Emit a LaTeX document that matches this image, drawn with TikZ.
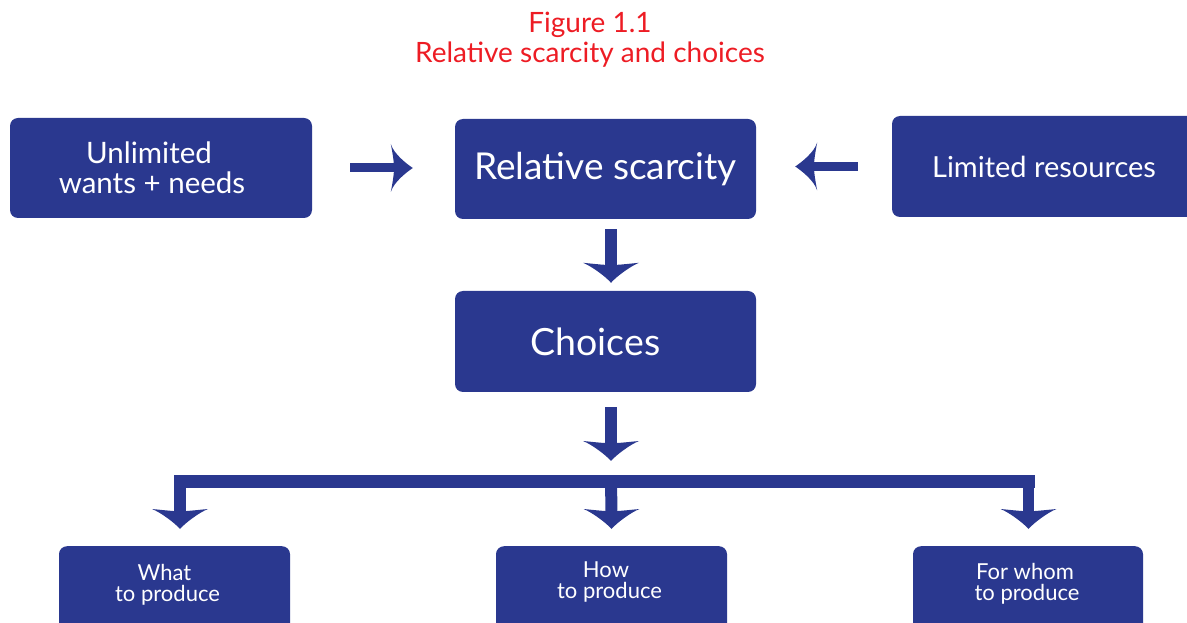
\documentclass[tikz,border=0pt]{standalone}
\usepackage{fontspec}
\setmainfont{Lato}
\definecolor{boxblue}{RGB}{42,56,143}
\definecolor{titlered}{RGB}{237,28,36}
\newcommand\padr[1]{\rule{#1}{0pt}}
\begin{document}
\begin{tikzpicture}[x=1pt,y=1pt,
  box/.style={fill=boxblue, rounded corners=8pt, text=white, inner sep=0pt, align=center},
  shaftH/.style={draw=boxblue, line width=9pt},
  shaftV/.style={draw=boxblue, line width=12pt},
  hhead/.pic={\fill[boxblue] (0,0) .. controls (-6,4) and (-19,14) .. (-22,24)
     .. controls (-20,14) and (-19,6) .. (-19,4.5) -- (-19,-4.5)
     .. controls (-19,-6) and (-20,-14) .. (-22,-24)
     .. controls (-19,-14) and (-6,-4) .. cycle;},
  vhead/.pic={\fill[boxblue] (0,0) .. controls (-6,5) and (-17,20) .. (-20,28)
     .. controls (-19,18) and (-18,8) .. (-18,6.5) -- (-18,-6.5)
     .. controls (-18,-8) and (-19,-18) .. (-20,-28)
     .. controls (-17,-20) and (-6,-5) .. cycle;}
]
\useasboundingbox (0,0) rectangle (1187,622);
\clip (0,0) rectangle (1187,622);

\node[text=titlered, align=center, font=\fontsize{28}{30}\selectfont] (title) at (590,582)
  {Figure 1.1\\Relative scarcity and choices};

\node[box, minimum width=302pt, minimum height=100pt, font=\fontsize{29.5}{30}\selectfont] (u) at (161,454)
  {Unlimited\padr{24pt}\\wants + needs\padr{18pt}};
\node[box, minimum width=301pt, minimum height=100pt, font=\fontsize{37}{40}\selectfont] (rs) at (605.5,453)
  {Relative scarcity};
\node[box, minimum width=308pt, minimum height=101pt, font=\fontsize{29}{30}\selectfont] (lr) at (1046,455.5)
  {Limited resources\padr{4pt}};
\node[box, minimum width=301pt, minimum height=101pt, font=\fontsize{37.5}{40}\selectfont] (ch) at (605.5,280.5)
  {Choices\padr{20pt}};
\node[box, minimum width=231pt, minimum height=94pt, font=\fontsize{22}{21}\selectfont, anchor=north] (what) at (174.5,76)
  {What\padr{20pt}\\to produce\padr{14pt}\\[0pt]};
\node[box, minimum width=231pt, minimum height=94pt, font=\fontsize{22}{21}\selectfont, anchor=north] (how) at (611.5,76)
  {How\padr{11pt}\\to produce\padr{4pt}\\[6pt]};
\node[box, minimum width=230pt, minimum height=94pt, font=\fontsize{22}{21}\selectfont, anchor=north] (whom) at (1028,76)
  {For whom\padr{6pt}\\to produce\padr{2pt}\\[2pt]};

% horizontal arrows
\coordinate (a1s) at ([xshift=38]u.east);
\coordinate (a1t) at ([xshift=-42]rs.west |- u.east);
\draw[shaftH] (a1s) -- ([xshift=-18]a1t);
\path (a1t) pic{hhead};

\coordinate (a2s) at ([xshift=-34]lr.west);
\coordinate (a2t) at ([xshift=39]rs.east |- a2s);
\draw[shaftH] (a2s) -- ([xshift=18]a2t);
\path (a2t) pic[rotate=180]{hhead};

% vertical arrows
\coordinate (a3s) at ([xshift=5.5,yshift=-10]rs.south);
\coordinate (a3t) at ([xshift=5.5,yshift=8]ch.north);
\draw[shaftV] (a3s) -- ([yshift=17]a3t);
\path (a3t) pic[rotate=-90]{vhead};

\coordinate (a4s) at ([xshift=5.5,yshift=-15]ch.south);
\coordinate (a4t) at ([xshift=5.5]ch.south |- 0,161);
\draw[shaftV] (a4s) -- ([yshift=17]a4t);
\path (a4t) pic[rotate=-90]{vhead};

% distribution bar
\coordinate (bl) at (180,140.5);
\coordinate (bm) at (611,140.5);
\coordinate (br) at (1028.5,140.5);
\coordinate (tl) at ([xshift=5.5,yshift=17]what.north);
\coordinate (tm) at ([yshift=17]how.north);
\coordinate (tr) at ([xshift=0.5,yshift=17]whom.north);
\draw[draw=boxblue, line width=13pt] ([xshift=-6]bl) -- ([xshift=6]br);
\draw[draw=boxblue, line width=12pt] ([yshift=6.5]bl) -- ([yshift=17]tl);
\draw[draw=boxblue, line width=12pt] (bm) -- ([yshift=17]tm);
\draw[draw=boxblue, line width=11pt] ([yshift=6.5]br) -- ([yshift=17]tr);
\path (tl) pic[rotate=-90]{vhead};
\path (tm) pic[rotate=-90]{vhead};
\path (tr) pic[rotate=-90]{vhead};
\end{tikzpicture}
\end{document}
